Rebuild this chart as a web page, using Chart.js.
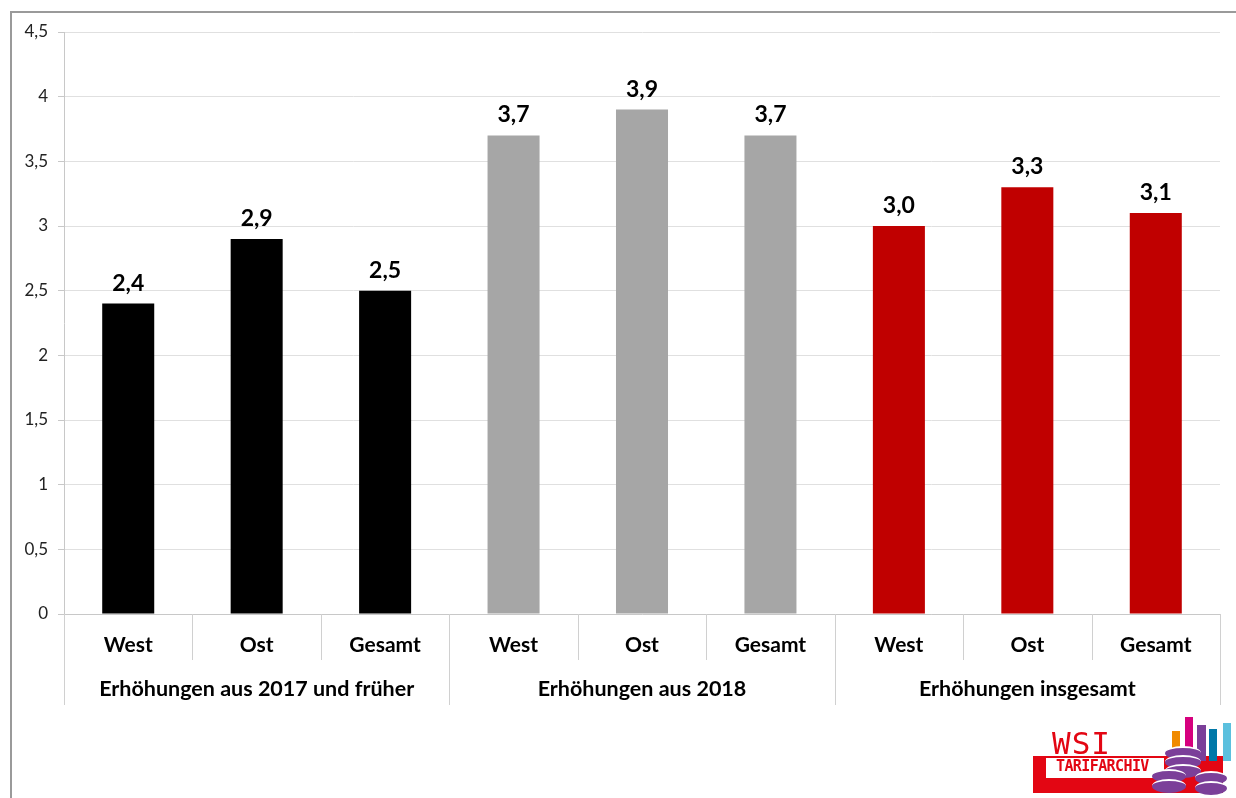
<!DOCTYPE html>
<html>
<head>
<meta charset="utf-8">
<script src="https://cdn.jsdelivr.net/npm/chart.js@4/dist/chart.umd.min.js"></script>
<style>
  html, body { margin: 0; padding: 0; background: #fff; overflow: hidden; }
  #wrap { position: relative; width: 1236px; height: 798px; }
  #frame { position: absolute; left: 10px; top: 11px; width: 1240px; height: 800px; border: 2px solid #9a9a9a; box-sizing: border-box; }
  #chart { position: absolute; left: 0; top: 0; }
  .logo div { position: absolute; }
  .txt { color: #e30613; font-family: "DejaVu Sans Mono", monospace; line-height: 1; }
  .coin { border-radius: 50%; background: #7b3f99; border-top: 2px solid #fff; }
</style>
</head>
<body>
<div id="wrap">
  <div id="frame"></div>
  <canvas id="chart" width="1236" height="798"></canvas>
  <div class="logo">
    <div style="left:1033px;top:756px;width:190px;height:37px;background:#e30613"></div>
    <div style="left:1046px;top:758px;width:118px;height:20px;background:#fff"></div>
    <div class="txt" style="left:1052px;top:728px;font-size:31px;letter-spacing:1px">WSI</div>
    <div class="txt" style="left:1056px;top:759px;font-size:15px;letter-spacing:-0.6px;font-weight:bold">TARIFARCHIV</div>
    <div style="left:1172px;top:731px;width:8px;height:30px;background:#f08a00"></div>
    <div style="left:1185px;top:717px;width:8px;height:44px;background:#d6007e"></div>
    <div style="left:1197px;top:725px;width:9px;height:36px;background:#7b3f99"></div>
    <div style="left:1209px;top:729px;width:8px;height:32px;background:#0078a8"></div>
    <div style="left:1223px;top:723px;width:8px;height:38px;background:#5bc0de"></div>
    <div class="coin" style="left:1165px;top:746px;width:36px;height:12px"></div>
    <div class="coin" style="left:1165px;top:755px;width:36px;height:12px"></div>
    <div class="coin" style="left:1165px;top:764px;width:36px;height:12px"></div>
    <div class="coin" style="left:1152px;top:769px;width:34px;height:12px"></div>
    <div class="coin" style="left:1152px;top:779px;width:34px;height:12px"></div>
    <div class="coin" style="left:1195px;top:771px;width:32px;height:12px"></div>
    <div class="coin" style="left:1195px;top:781px;width:32px;height:12px"></div>
  </div>
</div>
<script>
// === Data ===
const categories = ['West', 'Ost', 'Gesamt', 'West', 'Ost', 'Gesamt', 'West', 'Ost', 'Gesamt'];
const groups = ['Erhöhungen aus 2017 und früher', 'Erhöhungen aus 2018', 'Erhöhungen insgesamt'];
const values = [2.4, 2.9, 2.5, 3.7, 3.9, 3.7, 3.0, 3.3, 3.1];
const groupColors = ['#000000', '#a6a6a6', '#c00000'];

const fontFamily = 'Lato, "Open Sans", sans-serif';
const fmt = v => v.toFixed(1).replace('.', ',');

// === Value labels above bars ===
const valueLabels = {
  id: 'valueLabels',
  afterDatasetsDraw(chart) {
    const ctx = chart.ctx;
    const meta = chart.getDatasetMeta(0);
    ctx.save();
    ctx.font = 'bold 23px ' + fontFamily;
    ctx.fillStyle = '#000';
    ctx.textAlign = 'center';
    ctx.textBaseline = 'alphabetic';
    meta.data.forEach((bar, i) => {
      ctx.fillText(fmt(values[i]), bar.x, bar.y - 13);
    });
    ctx.restore();
  }
};

// === Two-level category axis ===
const groupAxis = {
  id: 'groupAxis',
  afterDraw(chart) {
    const ctx = chart.ctx;
    const x = chart.scales.x;
    const bottom = chart.chartArea.bottom;
    const step = (x.right - x.left) / categories.length;
    ctx.save();
    ctx.strokeStyle = '#d0d0d0';
    ctx.lineWidth = 1;
    for (let i = 0; i <= categories.length; i++) {
      const px = Math.round(x.left + i * step) + 0.5;
      const len = i % 3 === 0 ? 91 : 46;
      ctx.beginPath();
      ctx.moveTo(px, bottom);
      ctx.lineTo(px, bottom + len);
      ctx.stroke();
    }
    ctx.font = 'bold 21.5px ' + fontFamily;
    ctx.fillStyle = '#000';
    ctx.textAlign = 'center';
    ctx.textBaseline = 'middle';
    groups.forEach((g, i) => {
      ctx.fillText(g, x.left + (i * 3 + 1.5) * step, bottom + 75);
    });
    ctx.restore();
  }
};

new Chart(document.getElementById('chart').getContext('2d'), {
  type: 'bar',
  data: {
    labels: categories,
    datasets: [{
      data: values,
      backgroundColor: values.map((v, i) => groupColors[Math.floor(i / 3)]),
      categoryPercentage: 1,
      barPercentage: 0.405
    }]
  },
  options: {
    responsive: false,
    animation: false,
    layout: { padding: { top: 32, right: 16, bottom: 0, left: 0 } },
    plugins: { legend: { display: false }, tooltip: { enabled: false } },
    scales: {
      x: {
        afterFit: s => { s.height = 184; },
        grid: { display: false },
        border: { display: true, color: '#c8c8c8' },
        ticks: { color: '#000', padding: 11, font: { family: fontFamily, size: 21, weight: 'bold' } }
      },
      y: {
        min: 0,
        max: 4.5,
        afterFit: s => { s.width = 64; },
        grid: { color: '#e0e0e0', tickColor: '#c8c8c8', tickLength: 6 },
        border: { display: true, color: '#c8c8c8' },
        ticks: {
          stepSize: 0.5,
          padding: 10,
          color: '#222',
          font: { family: fontFamily, size: 17 },
          callback: v => String(v).replace('.', ',')
        }
      }
    }
  },
  plugins: [valueLabels, groupAxis]
});
</script>
</body>
</html>
